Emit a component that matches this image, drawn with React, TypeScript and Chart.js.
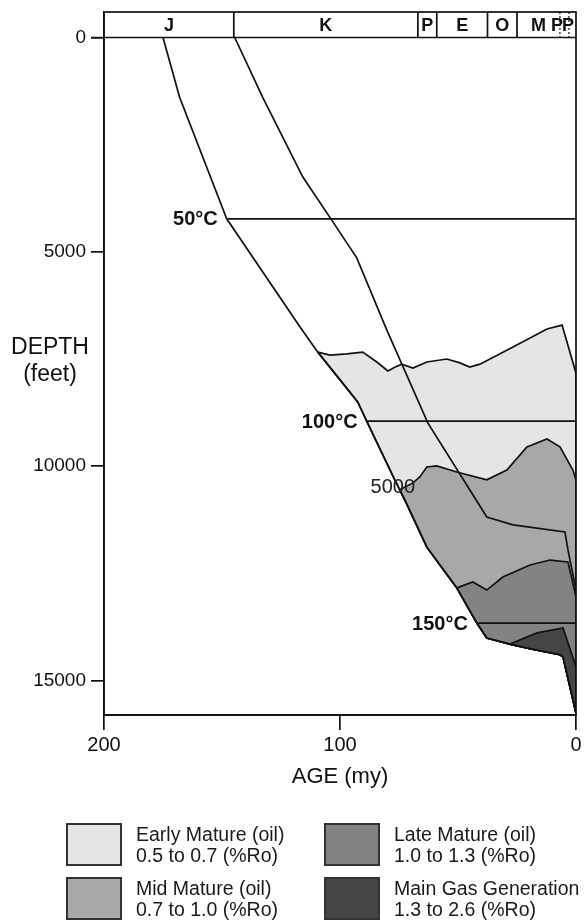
import React, { useEffect, useRef } from "react";
import { Chart, registerables } from "chart.js";

Chart.register(...registerables);

const FONT = "'Liberation Sans', Arial, Helvetica, sans-serif";

// ---- data (age in my, depth in feet) ----
const xTicks = [0, 100, 200];
const yTicks = [0, 5000, 10000, 15000];

// burial curve of the oldest (Jurassic) horizon
const burialJAge = [175, 168, 148, 117, 109.4, 92.5, 88.7, 76.8, 72.5, 63.2, 50.5, 42, 37.8, 28, 19.5, 6.8, 5.5, 0];
const burialJDepth = [0, 1390, 4230, 6750, 7340, 8500, 8950, 10320, 10790, 11890, 12840, 13660, 14010, 14150, 14260, 14400, 14450, 15760];

// burial curve of the base Cretaceous horizon
const burialKAge = [144.6, 132.8, 115.8, 103.5, 92.9, 80.2, 62.8, 37.8, 26.7, 4.7, 3.4, 0];
const burialKDepth = [0, 1390, 3250, 4260, 5140, 6820, 8990, 11185, 11370, 11535, 11955, 12890];

// tops of the maturity windows
const earlyTopAge = [109.4, 104.3, 97.1, 90.4, 84.4, 79.7, 76.8, 73.8, 69.1, 63.2, 54.7, 49.2, 45, 40.7, 26.7, 12.3, 5.9, 0];
const earlyTopDepth = [7340, 7410, 7380, 7340, 7570, 7780, 7690, 7620, 7710, 7570, 7500, 7590, 7690, 7620, 7220, 6800, 6710, 7830];

const midTopAge = [74.7, 69.1, 66.2, 63.2, 59, 50.5, 37.8, 29.3, 20.8, 12.3, 6.8, 1.3, 0];
const midTopDepth = [10550, 10390, 10250, 10020, 9995, 10135, 10320, 10090, 9550, 9365, 9550, 10090, 10320];

const lateTopAge = [50.5, 43.7, 37.8, 31, 19.5, 11, 3.4, 0];
const lateTopDepth = [12840, 12700, 12890, 12585, 12305, 12190, 12235, 13050];

const gasTopAge = [28, 16.5, 5.5, 0];
const gasTopDepth = [14150, 13890, 13775, 14680];

// isotherms
const isoLabels = ["50°C", "100°C", "150°C"];
const isoStartAge = [148, 88.7, 42];
const isoDepth = [4230, 8950, 13660];

// inner contour label
const innerLabel = "5000";
const innerLabelAge = 77.6;
const innerLabelDepth = 10500;

// geologic time band
const periodLabels = ["J", "K", "P", "E", "O", "M", "P", "P"];
const periodLabelAge = [172.5, 106, 63, 48.2, 31.2, 15.9, 8.1, 3.4];
const periodBoundaries = [145, 67, 59, 37.5, 25];
const epochBoundaries = [6.8, 3.0];
const bandTopDepth = -595;

// legend
const zoneNames = ["Early Mature (oil)", "Mid Mature (oil)", "Late Mature (oil)", "Main Gas Generation"];
const zoneRanges = ["0.5 to 0.7 (%Ro)", "0.7 to 1.0 (%Ro)", "1.0 to 1.3 (%Ro)", "1.3 to 2.6 (%Ro)"];
const zoneColors = ["#e5e5e5", "#a8a8a8", "#838383", "#454545"];

const pts = (ages: number[], depths: number[]) => ages.map((a, i) => ({ x: a, y: depths[i] }));

function zonePolygon(topAges: number[], topDepths: number[]) {
  const start = topAges[0];
  const p = pts(topAges, topDepths);
  const last = burialJAge.length - 1;
  p.push({ x: burialJAge[last], y: burialJDepth[last] });
  for (let i = last - 1; i >= 0; i--) {
    if (burialJAge[i] < start && burialJAge[i] > 0) p.push({ x: burialJAge[i], y: burialJDepth[i] });
  }
  p.push({ x: topAges[0], y: topDepths[0] });
  return p;
}

const LINE = "#111";
const LW = 1.7;

const overlay = {
  id: "overlay",
  afterDatasetsDraw(chart: any) {
    const { ctx, chartArea: a, scales } = chart;
    const x = scales.x;
    const y = scales.y;
    ctx.save();
    ctx.strokeStyle = LINE;
    ctx.lineWidth = LW;
    ctx.strokeRect(a.left, a.top, a.right - a.left, a.bottom - a.top);
    const y0 = y.getPixelForValue(0);
    ctx.beginPath();
    ctx.moveTo(a.left - 13, y0);
    ctx.lineTo(a.right, y0);
    ctx.stroke();

    ctx.fillStyle = "#111";
    ctx.textBaseline = "middle";
    ctx.textAlign = "center";
    ctx.font = `bold 18px ${FONT}`;
    const bandMid = (y.getPixelForValue(bandTopDepth) + y0) / 2 + 1;
    periodLabels.forEach((t, i) => ctx.fillText(t, x.getPixelForValue(periodLabelAge[i]), bandMid));

    ctx.textAlign = "right";
    ctx.font = `bold 20px ${FONT}`;
    isoLabels.forEach((t, i) =>
      ctx.fillText(t, x.getPixelForValue(isoStartAge[i]) - 9, y.getPixelForValue(isoDepth[i]) + 1)
    );

    ctx.textAlign = "center";
    ctx.font = `20px ${FONT}`;
    ctx.fillStyle = "#222";
    ctx.fillText(innerLabel, x.getPixelForValue(innerLabelAge), y.getPixelForValue(innerLabelDepth));

    ctx.fillStyle = "#111";
    ctx.font = `23px ${FONT}`;
    const titleX = a.left / 2 - 2;
    const midY = y.getPixelForValue(7550);
    ctx.fillText("DEPTH", titleX, midY - 13);
    ctx.fillText("(feet)", titleX, midY + 14);
    ctx.restore();
  },
};

export default function App() {
  const ref = useRef<HTMLCanvasElement>(null);

  useEffect(() => {
    const canvas = ref.current;
    if (!canvas) return;
    const base = {
      showLine: true,
      pointRadius: 0,
      pointHoverRadius: 0,
      borderColor: LINE,
      borderWidth: LW,
      tension: 0,
      fill: false,
      order: 0,
    };
    const datasets: any[] = [];
    const tops = [
      [earlyTopAge, earlyTopDepth],
      [midTopAge, midTopDepth],
      [lateTopAge, lateTopDepth],
    ];
    tops.forEach(([ag, dp], i) => {
      datasets.push({
        ...base,
        data: zonePolygon(ag, dp),
        fill: "shape",
        backgroundColor: zoneColors[i],
        order: 10 - i,
      });
    });
    // gas wedge: top, right edge, then back along the burial curve
    const gas = pts(gasTopAge, gasTopDepth);
    const lastJ = burialJAge.length - 1;
    gas.push({ x: burialJAge[lastJ], y: burialJDepth[lastJ] });
    for (let i = lastJ - 1; i >= 0; i--) {
      if (burialJAge[i] < gasTopAge[0] && burialJAge[i] > 0) gas.push({ x: burialJAge[i], y: burialJDepth[i] });
    }
    gas.push({ x: gasTopAge[0], y: gasTopDepth[0] });
    datasets.push({ ...base, data: gas, fill: "shape", backgroundColor: zoneColors[3], order: 6 });

    datasets.push({ ...base, data: pts(burialJAge, burialJDepth) });
    datasets.push({ ...base, data: pts(burialKAge, burialKDepth) });
    isoStartAge.forEach((a, i) => {
      datasets.push({ ...base, data: [{ x: a, y: isoDepth[i] }, { x: 0, y: isoDepth[i] }] });
    });
    periodBoundaries.forEach((a) => {
      datasets.push({ ...base, data: [{ x: a, y: bandTopDepth }, { x: a, y: 0 }] });
    });
    epochBoundaries.forEach((a) => {
      datasets.push({ ...base, borderWidth: 1.2, borderDash: [2, 2], data: [{ x: a, y: bandTopDepth }, { x: a, y: 0 }] });
    });

    const chart = new Chart(canvas, {
      type: "scatter",
      data: { datasets },
      options: {
        responsive: false,
        maintainAspectRatio: false,
        animation: false,
        devicePixelRatio: 1,
        events: [],
        layout: { padding: { left: 0, top: 12, right: 9, bottom: 128 } },
        plugins: { legend: { display: false }, tooltip: { enabled: false } },
        scales: {
          x: {
            type: "linear",
            min: 0,
            max: 200,
            reverse: true,
            afterBuildTicks: (s: any) => {
              s.ticks = xTicks.map((v) => ({ value: v }));
            },
            afterFit: (s: any) => {
              s.height = 78;
              s.paddingLeft = 0;
              s.paddingRight = 0;
            },
            ticks: {
              font: { size: 20, family: FONT },
              color: "#111",
              padding: 3,
              maxRotation: 0,
              callback: (v: any) => String(v),
            },
            grid: { display: true, drawOnChartArea: false, drawTicks: true, tickLength: 15, color: LINE, lineWidth: LW },
            border: { display: true, color: LINE, width: LW },
            title: {
              display: true,
              text: "AGE (my)",
              font: { size: 22, family: FONT },
              color: "#111",
              padding: { top: 4, bottom: 3 },
            },
          },
          y: {
            type: "linear",
            min: bandTopDepth,
            max: 15805,
            reverse: true,
            afterBuildTicks: (s: any) => {
              s.ticks = yTicks.map((v) => ({ value: v }));
            },
            afterFit: (s: any) => {
              s.width = 104;
              s.paddingTop = 0;
              s.paddingBottom = 0;
            },
            ticks: {
              font: { size: 19, family: FONT },
              color: "#111",
              padding: 5,
              callback: (v: any) => String(v),
            },
            grid: { display: true, drawOnChartArea: false, drawTicks: true, tickLength: 13, color: LINE, lineWidth: LW },
            border: { display: true, color: LINE, width: LW },
          },
        },
      },
      plugins: [overlay],
    } as any);
    return () => chart.destroy();
  }, []);

  return (
    <div style={{ position: "absolute", left: 0, top: 0, width: 585, height: 921, background: "#fff", fontFamily: FONT }}>
      <canvas ref={ref} width={585} height={921} style={{ display: "block" }} />
      {zoneNames.map((name, i) => {
        const col = Math.floor(i / 2);
        const row = i % 2;
        const left = 66 + col * 258;
        const top = 823 + row * 54;
        return (
          <div key={name} style={{ position: "absolute", left, top, height: 44, width: 262 }}>
            <div
              style={{
                position: "absolute",
                left: 0,
                top: 0,
                width: 56,
                height: 43,
                boxSizing: "border-box",
                border: "2px solid #333",
                background: zoneColors[i],
              }}
            />
            <div
              style={{
                position: "absolute",
                left: 70,
                top: 1,
                fontSize: 19.5,
                lineHeight: "21px",
                color: "#1a1a1a",
                whiteSpace: "nowrap",
              }}
            >
              <div>{name}</div>
              <div>{zoneRanges[i]}</div>
            </div>
          </div>
        );
      })}
    </div>
  );
}
